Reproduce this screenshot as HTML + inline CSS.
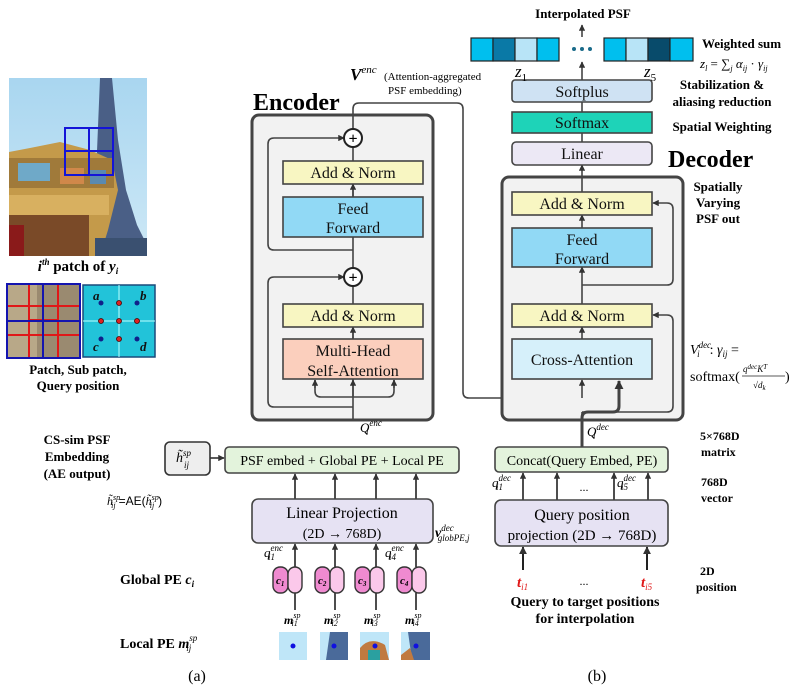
<!DOCTYPE html>
<html><head><meta charset="utf-8"><style>
html,body{margin:0;padding:0;background:#fff;}
svg{display:block;font-family:"Liberation Serif",serif;}
.b{font-weight:bold;}
</style></head><body>
<svg width="799" height="692" viewBox="0 0 799 692" xmlns="http://www.w3.org/2000/svg">
<defs>
<marker id="ar2" viewBox="0 0 10 10" refX="9" refY="5" markerWidth="4" markerHeight="4" orient="auto"><path d="M0,0L10,5L0,10z" fill="#333"/></marker>
<marker id="ar3" viewBox="0 0 10 10" refX="9" refY="5" markerWidth="9" markerHeight="9" markerUnits="userSpaceOnUse" orient="auto"><path d="M0,0L10,5L0,10z" fill="#333"/></marker>
<linearGradient id="sky" x1="0" y1="0" x2="0" y2="1"><stop offset="0" stop-color="#a9d6f0"/><stop offset="1" stop-color="#cde8f6"/></linearGradient>
</defs>

<!-- LEFT PHOTO -->
<rect x="9" y="78" width="138" height="178" fill="url(#sky)"/>
<polygon points="100,78 112,78 118,140 126,190 137,225 147,245 147,256 88,256 95,200" fill="#4a5f86"/>
<polygon points="9,152 30,148 60,142 90,150 112,160 118,190 108,230 100,256 9,256" fill="#c49a4a"/>
<rect x="9" y="158" width="105" height="30" fill="#a07a3a"/>
<rect x="18" y="163" width="32" height="18" fill="#6fa9c8"/>
<rect x="60" y="168" width="24" height="16" fill="#d0884a"/>
<rect x="90" y="170" width="16" height="14" fill="#5a8ab0"/>
<rect x="9" y="195" width="100" height="20" fill="#d8b060"/>
<rect x="9" y="215" width="80" height="41" fill="#7a4a28"/>
<rect x="9" y="225" width="15" height="31" fill="#8a1a1a"/>
<rect x="95" y="238" width="52" height="18" fill="#3a5070"/>
<g stroke="#1414d8" stroke-width="2" fill="none"><rect x="65" y="128" width="48" height="47"/><line x1="89" y1="128" x2="89" y2="175"/><line x1="65" y1="151" x2="113" y2="151"/></g>
<text x="78" y="271" text-anchor="middle" font-size="15" class="b"><tspan font-style="italic">i</tspan><tspan font-size="9" dy="-6" font-style="italic">th</tspan><tspan dy="6"> patch of </tspan><tspan font-style="italic">y</tspan><tspan font-size="9" dy="3" font-style="italic">i</tspan></text>
<rect x="7" y="284" width="73" height="74" fill="#9a8a70"/>
<rect x="7" y="284" width="30" height="74" fill="#b8a888"/>
<g stroke="#e01818" stroke-width="2" fill="none"><rect x="29" y="284" width="29" height="74"/><rect x="7" y="306" width="73" height="29"/><line x1="43" y1="306" x2="43" y2="335"/><line x1="29" y1="320" x2="58" y2="320"/></g>
<g stroke="#1414b0" stroke-width="2" fill="none"><rect x="7" y="284" width="73" height="74"/><line x1="43" y1="284" x2="43" y2="358"/><line x1="7" y1="321" x2="80" y2="321"/></g>
<rect x="83" y="285" width="72" height="72" fill="#22c3d9" stroke="#1a4a7a" stroke-width="1.5"/>
<line x1="119" y1="285" x2="119" y2="357" stroke="#bff" stroke-width="1"/><line x1="83" y1="321" x2="155" y2="321" stroke="#bff" stroke-width="1"/>
<g fill="#10208a"><circle cx="101" cy="303" r="2.5"/><circle cx="137" cy="303" r="2.5"/><circle cx="101" cy="339" r="2.5"/><circle cx="137" cy="339" r="2.5"/></g>
<g fill="#e02020" stroke="#400" stroke-width="0.8"><circle cx="119" cy="303" r="2.5"/><circle cx="101" cy="321" r="2.5"/><circle cx="119" cy="321" r="2.5"/><circle cx="137" cy="321" r="2.5"/><circle cx="119" cy="339" r="2.5"/></g>
<g font-size="13" font-style="italic" class="b" fill="#111"><text x="93" y="300">a</text><text x="140" y="300">b</text><text x="93" y="351">c</text><text x="140" y="351">d</text></g>
<text x="78" y="374" text-anchor="middle" font-size="13" class="b">Patch, Sub patch,</text>
<text x="78" y="390" text-anchor="middle" font-size="13" class="b">Query position</text>

<!-- ENCODER -->
<text x="253" y="110" font-size="24" class="b">Encoder</text>
<rect x="252" y="115" width="181" height="305" rx="7" fill="#f2f2f2" stroke="#444" stroke-width="3"/>
<g stroke="#444" stroke-width="1.6" fill="none">
<path d="M353,420 V146" />
<path d="M353,250 H274 Q268,250 268,244 V144 Q268,138 274,138 H344" marker-end="url(#ar2)"/>
<path d="M353,407 H274 Q268,407 268,401 V283 Q268,277 274,277 H344" marker-end="url(#ar2)"/>
<path d="M315,380 V391 Q315,397 321,397 H388 Q394,397 394,391 V380" />
<path d="M353,397 V380" marker-end="url(#ar2)"/>
<path d="M315,388 V380" marker-end="url(#ar2)"/>
<path d="M394,388 V380" marker-end="url(#ar2)"/>
<path d="M353,197 V184" marker-end="url(#ar2)"/>
<path d="M353,339 V327" marker-end="url(#ar2)"/>
<path d="M353,130 V109 Q353,103 359,103 H457 Q463,103 463,109 V392 Q463,398 469,398 H576 Q582,398 582,392"/>
<path d="M543,398 V380" marker-end="url(#ar2)"/>
</g>
<circle cx="353" cy="138" r="9" fill="#fff" stroke="#222" stroke-width="2"/><text x="353" y="143.5" text-anchor="middle" font-size="16" class="b">+</text>
<circle cx="353" cy="277" r="9" fill="#fff" stroke="#222" stroke-width="2"/><text x="353" y="282.5" text-anchor="middle" font-size="16" class="b">+</text>
<g stroke="#444" stroke-width="1.6">
<rect x="283" y="161" width="140" height="23" fill="#f8f6c2"/>
<rect x="283" y="197" width="140" height="40" fill="#91d9f5"/>
<rect x="283" y="304" width="140" height="23" fill="#f8f6c2"/>
<rect x="283" y="339" width="140" height="40" fill="#fbcfbd"/>
</g>
<g font-size="16" text-anchor="middle" fill="#111">
<text x="353" y="178">Add &amp; Norm</text>
<text x="353" y="214">Feed</text><text x="353" y="233">Forward</text>
<text x="353" y="321">Add &amp; Norm</text>
<text x="353" y="356">Multi-Head</text><text x="353" y="376">Self-Attention</text>
</g>
<text x="350" y="80" font-size="17" class="b" font-style="italic">V<tspan font-size="11" dy="-7" font-weight="normal">enc</tspan></text>
<text x="384" y="80" font-size="11">(Attention-aggregated</text>
<text x="388" y="94" font-size="11">PSF embedding)</text>

<!-- DECODER -->
<text x="668" y="167" font-size="24" class="b">Decoder</text>
<rect x="502" y="177" width="181" height="243" rx="7" fill="#f2f2f2" stroke="#444" stroke-width="3"/>
<g stroke="#444" stroke-width="1.6" fill="none">
<path d="M582,447 V412"/>
<path d="M582,398 V380" marker-end="url(#ar2)"/>
<path d="M582,412 H667 Q673,412 673,406 V321 Q673,315 667,315 H653" marker-end="url(#ar2)"/>
<path d="M582,304 V267" marker-end="url(#ar2)"/>
<path d="M582,339 V327" marker-end="url(#ar2)"/>
<path d="M582,285 H667 Q673,285 673,279 V209 Q673,203 667,203 H653" marker-end="url(#ar2)"/>
<path d="M582,228 V215" marker-end="url(#ar2)"/>
<path d="M582,192 V165" marker-end="url(#ar2)"/>
<path d="M582,142 V133"/>
<path d="M582,112 V102"/>
<path d="M582,80 V62" marker-end="url(#ar2)"/>
<path d="M582,37 V25" marker-end="url(#ar2)"/>
</g>
<path d="M582,447 V418 Q582,412 588,412 H613 Q619,412 619,406 V381" stroke="#444" stroke-width="3" fill="none" marker-end="url(#ar3)"/>
<g stroke="#444" stroke-width="1.6">
<rect x="512" y="80" width="140" height="22" rx="3" fill="#cfe2f3"/>
<rect x="512" y="112" width="140" height="21" fill="#1ed3b8"/>
<rect x="512" y="142" width="140" height="23" rx="4" fill="#ece8f5"/>
<rect x="512" y="192" width="140" height="23" fill="#f8f6c2"/>
<rect x="512" y="228" width="140" height="39" fill="#91d9f5"/>
<rect x="512" y="304" width="140" height="23" fill="#f8f6c2"/>
<rect x="512" y="339" width="140" height="40" fill="#d6f0fa"/>
</g>
<g font-size="16" text-anchor="middle" fill="#111">
<text x="582" y="97">Softplus</text>
<text x="582" y="128">Softmax</text>
<text x="582" y="159">Linear</text>
<text x="582" y="209">Add &amp; Norm</text>
<text x="582" y="245">Feed</text><text x="582" y="264">Forward</text>
<text x="582" y="321">Add &amp; Norm</text>
<text x="582" y="365">Cross-Attention</text>
</g>

<!-- top vectors -->
<text x="583" y="18" text-anchor="middle" font-size="13" class="b">Interpolated PSF</text>
<g stroke="#222" stroke-width="1.2">
<rect x="471" y="38" width="22" height="23" fill="#00bfee"/><rect x="493" y="38" width="22" height="23" fill="#0a79a6"/><rect x="515" y="38" width="22" height="23" fill="#b8e4f7"/><rect x="537" y="38" width="22" height="23" fill="#00bfee"/>
<rect x="604" y="38" width="22" height="23" fill="#00bfee"/><rect x="626" y="38" width="22" height="23" fill="#b8e4f7"/><rect x="648" y="38" width="22" height="23" fill="#084b6b"/><rect x="670" y="38" width="23" height="23" fill="#00bfee"/>
</g>
<g fill="#1a6b8a"><circle cx="574" cy="49" r="2"/><circle cx="582" cy="49" r="2"/><circle cx="590" cy="49" r="2"/></g>
<text x="515" y="77" font-size="17" font-style="italic">z<tspan font-size="11" dy="4" font-style="normal">1</tspan></text>
<text x="644" y="77" font-size="17" font-style="italic">z<tspan font-size="11" dy="4" font-style="normal">5</tspan></text>
<text x="702" y="48" font-size="13" class="b">Weighted sum</text>
<text x="700" y="68" font-size="13" font-style="italic">z<tspan font-size="8" dy="3">l</tspan><tspan dy="-3" font-style="normal"> = ∑</tspan><tspan font-size="8" dy="3">j</tspan><tspan dy="-3"> α</tspan><tspan font-size="8" dy="3">ij</tspan><tspan dy="-3" font-style="normal"> · </tspan>γ<tspan font-size="8" dy="3">ij</tspan></text>
<g font-size="13" class="b" text-anchor="middle">
<text x="722" y="89">Stabilization &amp;</text>
<text x="722" y="106">aliasing reduction</text>
<text x="722" y="131">Spatial Weighting</text>
<text x="718" y="191">Spatially</text><text x="718" y="207">Varying</text><text x="718" y="223">PSF out</text>
</g>
<text x="690" y="354" font-size="14" font-style="italic">V<tspan font-size="9" dy="-6">dec</tspan><tspan font-size="9" dy="9" dx="-14">i</tspan><tspan dy="-3" dx="10" font-style="normal">:  </tspan>γ<tspan font-size="9" dy="3">ij</tspan><tspan dy="-3" font-style="normal">  =</tspan></text>
<text x="690" y="381" font-size="14">softmax(</text>
<text x="743" y="372" font-size="9" font-style="italic">q<tspan font-size="7" dy="-3">dec</tspan><tspan dy="3">K</tspan><tspan font-size="7" dy="-3">T</tspan></text>
<line x1="742" y1="376" x2="785" y2="376" stroke="#222" stroke-width="0.8"/>
<text x="753" y="388" font-size="9" font-style="italic">√d<tspan font-size="7" dy="2">k</tspan></text>
<text x="785" y="381" font-size="14">)</text>

<!-- ENCODER BOTTOM -->
<text x="360" y="432" font-size="13" font-style="italic">Q<tspan font-size="9" dy="-6">enc</tspan><tspan font-size="9" dy="9" dx="-16">i</tspan></text>
<text x="77" y="444" text-anchor="middle" font-size="13" class="b">CS-sim PSF</text>
<text x="77" y="461" text-anchor="middle" font-size="13" class="b">Embedding</text>
<text x="77" y="478" text-anchor="middle" font-size="13" class="b">(AE output)</text>
<rect x="165" y="442" width="45" height="33" rx="5" fill="#eeeeee" stroke="#333" stroke-width="1.6"/>
<text x="176" y="462" font-size="14" font-style="italic">h̃<tspan font-size="9" dy="-6">sp</tspan></text>
<text x="184" y="468" font-size="9" font-style="italic">ij</text>
<line x1="210" y1="458" x2="224" y2="458" stroke="#333" stroke-width="1.6" marker-end="url(#ar2)"/>
<text x="107" y="505" font-size="12" font-style="italic">h̃<tspan font-size="8" dy="-5">sp</tspan><tspan font-size="8" dy="8" dx="-9">ij</tspan><tspan dy="-3" dx="3" font-style="normal" font-family="Liberation Sans">=AE(</tspan>h̃<tspan font-size="8" dy="-5">sp</tspan><tspan font-size="8" dy="8" dx="-9">ij</tspan><tspan dy="-3" dx="4" font-style="normal" font-family="Liberation Sans">)</tspan></text>
<rect x="225" y="447" width="234" height="26" rx="4" fill="#e3f3dc" stroke="#444" stroke-width="1.6"/>
<text x="342" y="465" text-anchor="middle" font-size="14">PSF embed + Global PE + Local PE</text>
<g stroke="#222" stroke-width="1.6" fill="none">
<path d="M295,499 V474" marker-end="url(#ar2)"/><path d="M335,499 V474" marker-end="url(#ar2)"/><path d="M376,499 V474" marker-end="url(#ar2)"/><path d="M416,499 V474" marker-end="url(#ar2)"/>
<path d="M295,567 V544" marker-end="url(#ar2)"/><path d="M335,567 V544" marker-end="url(#ar2)"/><path d="M376,567 V544" marker-end="url(#ar2)"/><path d="M416,567 V544" marker-end="url(#ar2)"/>
<path d="M295,610 V593"/><path d="M335,610 V593"/><path d="M376,610 V593"/><path d="M416,610 V593"/>
</g>
<rect x="252" y="499" width="181" height="44" rx="6" fill="#e6e2f3" stroke="#444" stroke-width="1.6"/>
<text x="342" y="518" text-anchor="middle" font-size="16">Linear Projection</text>
<text x="342" y="538" text-anchor="middle" font-size="14">(2D → 768D)</text>
<text x="435" y="537" font-size="14" font-style="italic" class="b">v<tspan font-size="9" dy="-6" font-weight="normal">dec</tspan><tspan font-size="9" dy="10" dx="-16" font-weight="normal">globPE,j</tspan></text>
<text x="264" y="557" font-size="13" font-style="italic">q<tspan font-size="9" dy="-6">enc</tspan><tspan font-size="9" dy="9" dx="-15">i1</tspan></text>
<text x="385" y="557" font-size="13" font-style="italic">q<tspan font-size="9" dy="-6">enc</tspan><tspan font-size="9" dy="9" dx="-15">i4</tspan></text>
<g stroke="#333" stroke-width="1.4">
<rect x="273" y="567" width="15" height="26" rx="7" fill="#ef8ad0"/><rect x="288" y="567" width="14" height="26" rx="7" fill="#fbc8ea"/>
<rect x="315" y="567" width="15" height="26" rx="7" fill="#ef8ad0"/><rect x="330" y="567" width="14" height="26" rx="7" fill="#fbc8ea"/>
<rect x="355" y="567" width="15" height="26" rx="7" fill="#ef8ad0"/><rect x="370" y="567" width="14" height="26" rx="7" fill="#fbc8ea"/>
<rect x="397" y="567" width="15" height="26" rx="7" fill="#ef8ad0"/><rect x="412" y="567" width="14" height="26" rx="7" fill="#fbc8ea"/>
</g>
<g font-size="11" font-style="italic" class="b"><text x="276" y="584">c<tspan font-size="7" dy="2">1</tspan></text><text x="318" y="584">c<tspan font-size="7" dy="2">2</tspan></text><text x="358" y="584">c<tspan font-size="7" dy="2">3</tspan></text><text x="400" y="584">c<tspan font-size="7" dy="2">4</tspan></text></g>
<text x="120" y="584" font-size="14" class="b">Global PE <tspan font-style="italic">c</tspan><tspan font-size="9" dy="3" font-style="italic">i</tspan></text>
<g font-size="12" font-style="italic" class="b">
<text x="284" y="624">m<tspan font-size="8" dy="-6" font-weight="normal">sp</tspan><tspan font-size="8" dy="8" dx="-9" font-weight="normal">i1</tspan></text>
<text x="324" y="624">m<tspan font-size="8" dy="-6" font-weight="normal">sp</tspan><tspan font-size="8" dy="8" dx="-9" font-weight="normal">i2</tspan></text>
<text x="364" y="624">m<tspan font-size="8" dy="-6" font-weight="normal">sp</tspan><tspan font-size="8" dy="8" dx="-9" font-weight="normal">i3</tspan></text>
<text x="405" y="624">m<tspan font-size="8" dy="-6" font-weight="normal">sp</tspan><tspan font-size="8" dy="8" dx="-9" font-weight="normal">i4</tspan></text>
</g>
<rect x="279" y="632" width="28" height="28" fill="#bfe6f8"/>
<rect x="320" y="632" width="28" height="28" fill="#bfe6f8"/><polygon points="330,632 348,632 348,660 326,660" fill="#4a6a9a"/>
<rect x="360" y="632" width="29" height="28" fill="#bfe6f8"/><path d="M360,648 Q370,636 385,645 L389,660 L360,660z" fill="#c07a40"/><rect x="368" y="650" width="12" height="10" fill="#2aa0a0"/>
<rect x="401" y="632" width="29" height="28" fill="#bfe6f8"/><polygon points="408,632 430,632 430,660 412,660" fill="#4a6a9a"/><polygon points="401,655 410,648 414,660 401,660" fill="#c07a40"/>
<g fill="#1010e0"><circle cx="293" cy="646" r="2.5"/><circle cx="334" cy="646" r="2.5"/><circle cx="375" cy="646" r="2.5"/><circle cx="416" cy="646" r="2.5"/></g>
<text x="120" y="648" font-size="14" class="b">Local PE  <tspan font-style="italic">m</tspan><tspan font-size="9" dy="-7" font-style="italic" font-weight="normal">sp</tspan><tspan font-size="9" dy="10" dx="-11" font-style="italic" font-weight="normal">ij</tspan></text>
<text x="197" y="681" text-anchor="middle" font-size="16">(a)</text>

<!-- DECODER BOTTOM -->
<text x="587" y="436" font-size="13" font-style="italic">Q<tspan font-size="9" dy="-6">dec</tspan><tspan font-size="9" dy="9" dx="-16">i</tspan></text>
<text x="700" y="440" font-size="12" class="b">5×768D</text>
<text x="701" y="456" font-size="12" class="b">matrix</text>
<rect x="495" y="447" width="173" height="25" rx="4" fill="#e3f3dc" stroke="#444" stroke-width="1.6"/>
<text x="582" y="465" text-anchor="middle" font-size="14">Concat(Query Embed, PE)</text>
<g stroke="#222" stroke-width="1.6" fill="none">
<path d="M523,500 V473" marker-end="url(#ar2)"/><path d="M557,500 V473" marker-end="url(#ar2)"/><path d="M614,500 V473" marker-end="url(#ar2)"/><path d="M648,500 V473" marker-end="url(#ar2)"/>
<path d="M523,570 V547" stroke-width="2" marker-end="url(#ar2)"/><path d="M647,570 V547" stroke-width="2" marker-end="url(#ar2)"/>
</g>
<text x="492" y="487" font-size="13" font-style="italic">q<tspan font-size="9" dy="-6">dec</tspan><tspan font-size="9" dy="9" dx="-15">i1</tspan></text>
<text x="617" y="487" font-size="13" font-style="italic">q<tspan font-size="9" dy="-6">dec</tspan><tspan font-size="9" dy="9" dx="-15">i5</tspan></text>
<text x="584" y="491" text-anchor="middle" font-size="12">...</text>
<text x="701" y="486" font-size="12" class="b">768D</text>
<text x="701" y="502" font-size="12" class="b">vector</text>
<rect x="495" y="500" width="173" height="46" rx="6" fill="#e6e2f3" stroke="#444" stroke-width="1.6"/>
<text x="582" y="520" text-anchor="middle" font-size="16">Query position</text>
<text x="582" y="540" text-anchor="middle" font-size="15">projection (2D → 768D)</text>
<text x="517" y="587" font-size="15" fill="#e01818" font-style="italic" class="b">t<tspan font-size="9" dy="3" font-weight="normal">i1</tspan></text>
<text x="641" y="587" font-size="15" fill="#e01818" font-style="italic" class="b">t<tspan font-size="9" dy="3" font-weight="normal">i5</tspan></text>
<text x="584" y="585" text-anchor="middle" font-size="12">...</text>
<text x="700" y="575" font-size="12" class="b">2D</text>
<text x="696" y="591" font-size="12" class="b">position</text>
<text x="585" y="606" text-anchor="middle" font-size="14" class="b">Query to target positions</text>
<text x="585" y="623" text-anchor="middle" font-size="14" class="b">for interpolation</text>
<text x="597" y="681" text-anchor="middle" font-size="16">(b)</text>
</svg>
</body></html>
